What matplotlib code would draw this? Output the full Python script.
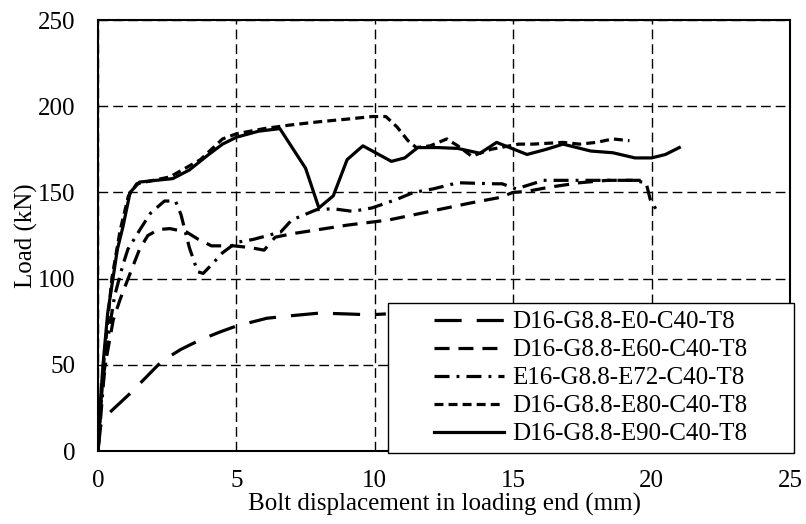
import matplotlib
matplotlib.use('Agg')
import matplotlib.pyplot as plt
from matplotlib.patches import Rectangle

plt.rcParams['font.family'] = ['Liberation Serif', 'DejaVu Serif']
plt.rcParams['font.size'] = 18

# curves (x = bolt displacement mm, y = load kN)
e0_x = [0, 0.1, 0.4, 1.2, 2.3, 3.0, 3.7, 4.4, 5.0, 6.1, 7.0, 8.0, 9.0, 9.8, 10.4]
e0_y = [0, 15, 22, 34, 52, 59, 64.5, 69, 72.5, 77, 78.5, 80, 79.5, 79, 79.5]

e60_x = [0, 0.15, 0.36, 0.55, 0.8, 1.16, 1.5, 1.8, 2.2, 2.6, 3.2, 3.6, 4.1, 4.9, 5.5,
         6.0, 6.4, 7.0, 8.0, 9.0, 10.0, 10.5, 12.0, 13.5, 14.5, 15.0, 15.5, 16.3,
         17.4, 18.4, 19.3, 19.8]
e60_y = [0, 40, 59, 76, 88, 103, 117, 125, 128.5, 129, 127, 123, 119, 119, 118,
         116.5, 124, 126, 128.5, 131, 133, 134, 139, 144, 147, 150, 150.6, 153,
         155.6, 157, 157, 157]

e72_x = [0, 0.2, 0.4, 0.6, 0.9, 1.08, 1.5, 1.9, 2.4, 2.8, 3.0, 3.3, 3.6, 3.8, 4.1,
         4.5, 5.0, 5.6, 6.6, 7.0, 7.9, 8.5, 9.2, 9.9, 10.8, 11.4, 12.1, 13.0, 14.3,
         14.6, 15.1, 16.1, 17.1, 18.4, 19.3, 19.8, 19.95, 20.2]
e72_y = [0, 40, 70, 90, 108, 117, 128, 138, 145, 145, 137, 118, 104, 103, 108,
         115, 121, 122.7, 127, 134, 140, 140.5, 139, 141, 146, 150, 152, 155.6, 155,
         155, 152, 157, 157, 157, 157, 155.6, 146, 139]

e80_x = [0, 0.2, 0.5, 0.8, 1.1, 1.4, 2.0, 2.6, 3.7, 4.5, 5.0, 6.0, 6.9, 8.0, 9.0,
         9.9, 10.4, 10.8, 11.2, 11.5, 12.0, 12.6, 13.0, 13.5, 14.2, 15.2, 15.7,
         16.8, 17.4, 18.0, 18.6, 19.2]
e80_y = [0, 50, 100, 128, 148, 155, 157, 159, 169, 181, 184, 187, 189, 191, 192.5,
         194, 194, 188, 180, 176, 177, 181, 177, 171, 175, 178, 178, 179, 178, 179,
         181, 180]

e90_x = [0, 0.05, 0.18, 0.35, 0.54, 0.7, 0.9, 1.16, 1.5, 2.7, 3.3, 4.0, 4.5, 5.0,
         5.8, 6.57, 7.5, 7.98, 8.5, 9.0, 9.57, 10.6, 11.08, 11.55, 12.3, 13.0, 13.8,
         14.4, 15.5, 16.2, 16.8, 17.8, 18.6, 19.4, 20.0, 20.5, 21.0]
e90_y = [0, 20, 50, 80, 100, 117, 130, 150, 156, 158, 163, 172, 178, 182,
         185.5, 187, 164, 141, 148, 169, 177, 168, 170, 176, 176, 175.5, 172.7,
         179, 172, 175, 178, 174, 173, 170, 170, 172, 176]

labels = ['D16-G8.8-E0-C40-T8', 'D16-G8.8-E60-C40-T8', 'E16-G8.8-E72-C40-T8',
          'D16-G8.8-E80-C40-T8', 'D16-G8.8-E90-C40-T8']

fig = plt.figure(figsize=(8.06, 5.24), dpi=100)
ax = fig.add_axes([98 / 806, 73 / 524, 692 / 806, 431 / 524])

lw = 2.3
ax.plot(e0_x, e0_y, color='black', lw=lw, linestyle=(0, (8.5, 4.7)), label=labels[0], zorder=3)
ax.plot(e60_x, e60_y, color='black', lw=lw, linestyle=(0, (4.7, 2.8)), label=labels[1], zorder=3)
ax.plot(e72_x, e72_y, color='black', lw=lw, linestyle=(0, (4.7, 2.2, 0.9, 2.2)), label=labels[2], zorder=3)
ax.plot(e80_x, e80_y, color='black', lw=lw, linestyle=(0, (2.8, 1.6)), label=labels[3], zorder=3)
ax.plot(e90_x, e90_y, color='black', lw=lw, linestyle='-', label=labels[4], zorder=3)

ax.set_xlim(0, 25)
ax.set_ylim(0, 250)
ax.set_xticks(range(0, 26, 5))
ax.set_yticks(range(0, 251, 50))
ax.tick_params(length=0)
ax.tick_params(axis='x', pad=14)
ax.tick_params(axis='y', pad=16)
ax.grid(True, color='black', lw=1.0, linestyle=(0, (7, 3.6)), zorder=1)
ax.set_axisbelow(True)
for s in ax.spines.values():
    s.set_linewidth(1.5)

ax.set_xlabel('Bolt displacement in loading end (mm)', labelpad=0)
ax.set_ylabel('Load (kN)', labelpad=0)

# legend box
x0, y0, w, h = 0.419, -0.005, 0.587, 0.348
ax.add_patch(Rectangle((x0, y0), w, h, transform=ax.transAxes, facecolor='white',
                       edgecolor='black', lw=1.0, zorder=4, clip_on=False))
leg = ax.legend(loc='center', bbox_to_anchor=(x0, y0, w, h), bbox_transform=ax.transAxes,
                frameon=False, handlelength=2.8, handletextpad=0.32, labelspacing=0.22,
                borderpad=0.2)
leg.set_zorder(5)

fig.savefig('out.png', dpi=100)
